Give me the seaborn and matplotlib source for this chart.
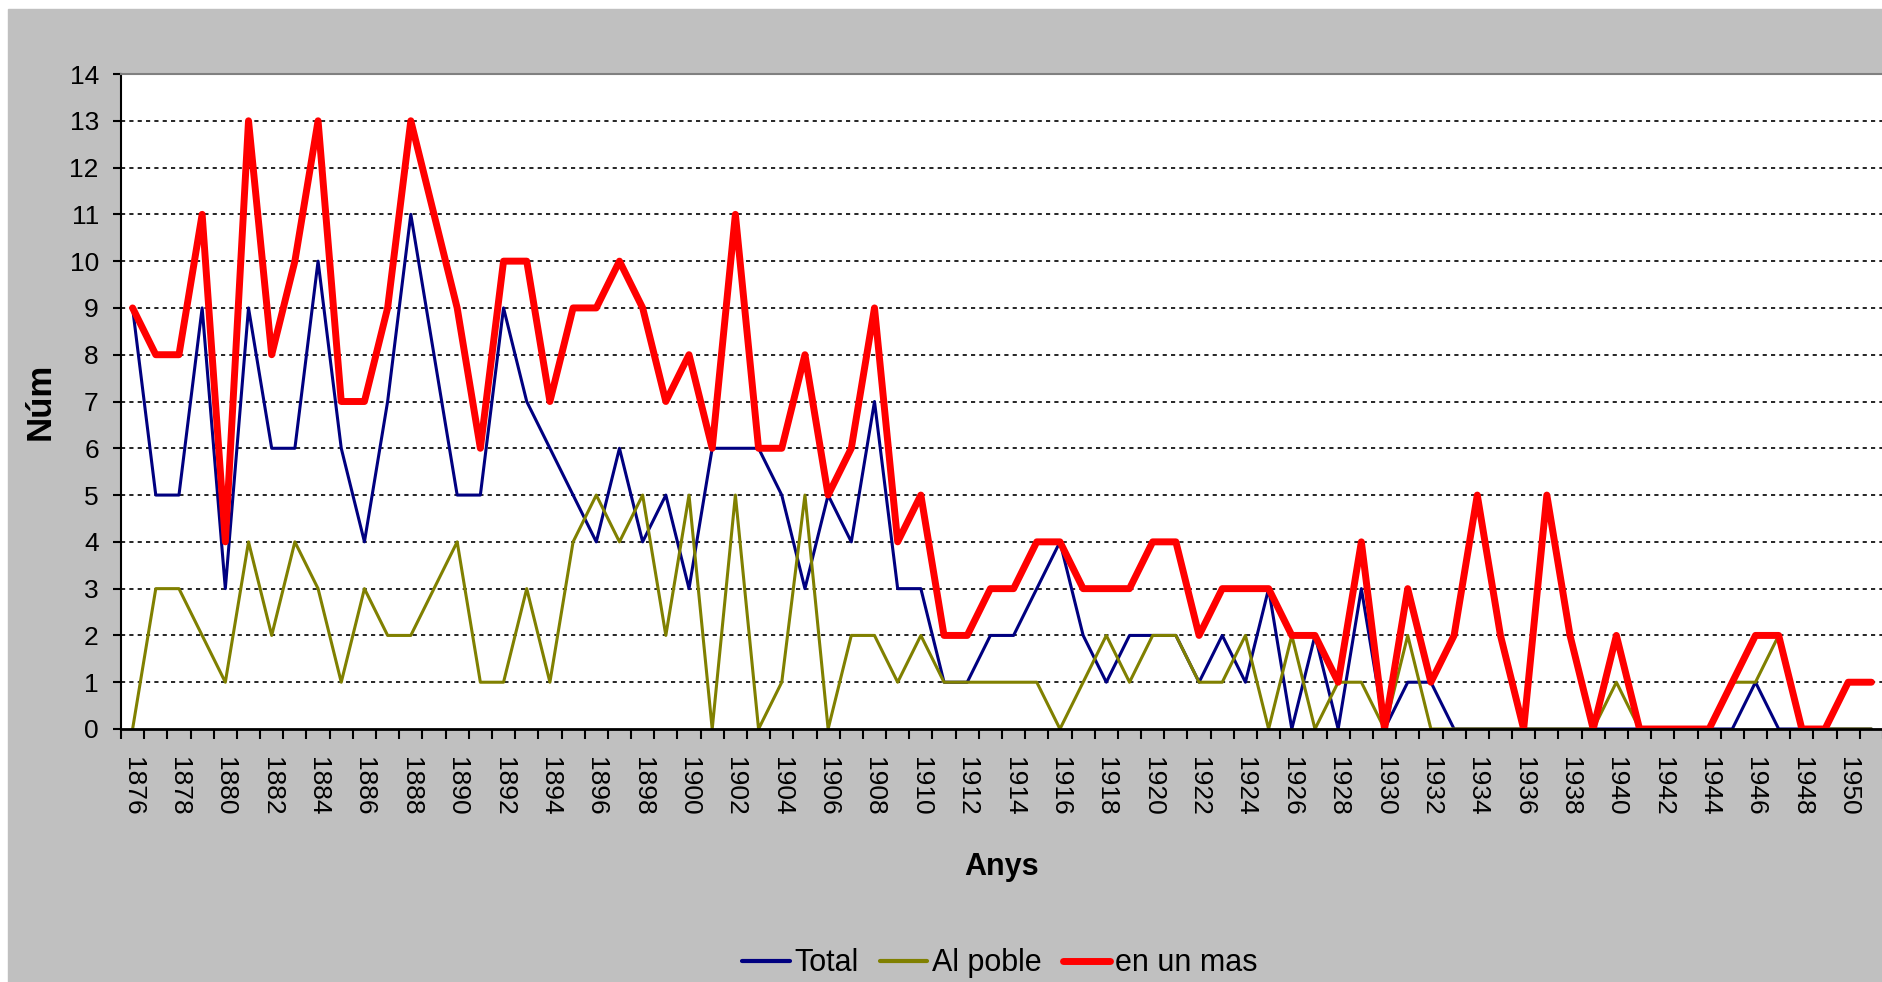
import numpy as np
import pandas as pd
import seaborn as sns
import matplotlib.pyplot as plt
from matplotlib.patches import Rectangle

# years on the category axis
years = list(range(1876, 1952))

total = [9, 5, 5, 9, 3, 9, 6, 6, 10, 6, 4, 7, 11, 8, 5, 5, 9, 7, 6, 5,
         4, 6, 4, 5, 3, 6, 6, 6, 5, 3, 5, 4, 7, 3, 3, 1, 1, 2, 2, 3,
         4, 2, 1, 2, 2, 2, 1, 2, 1, 3, 0, 2, 0, 3, 0, 1, 1, 0, 0, 0,
         0, 0, 0, 0, 0, 0, 0, 0, 0, 0, 1, 0, 0, 0, 0, 0]

al_poble = [0, 3, 3, 2, 1, 4, 2, 4, 3, 1, 3, 2, 2, 3, 4, 1, 1, 3, 1, 4,
            5, 4, 5, 2, 5, 0, 5, 0, 1, 5, 0, 2, 2, 1, 2, 1, 1, 1, 1, 1,
            0, 1, 2, 1, 2, 2, 1, 1, 2, 0, 2, 0, 1, 1, 0, 2, 0, 0, 0, 0,
            0, 0, 0, 0, 1, 0, 0, 0, 0, 1, 1, 2, 0, 0, 0, 0]

en_un_mas = [9, 8, 8, 11, 4, 13, 8, 10, 13, 7, 7, 9, 13, 11, 9, 6, 10, 10, 7, 9,
             9, 10, 9, 7, 8, 6, 11, 6, 6, 8, 5, 6, 9, 4, 5, 2, 2, 3, 3, 4,
             4, 3, 3, 3, 4, 4, 2, 3, 3, 3, 2, 2, 1, 4, 0, 3, 1, 2, 5, 2,
             0, 5, 2, 0, 2, 0, 0, 0, 0, 1, 2, 2, 0, 0, 1, 1]

series_names = ["Total", "Al poble", "en un mas"]
series_colors = ["#000080", "#808000", "#FF0000"]
series_widths = [2.2, 2.2, 5.0]

df = pd.DataFrame({"Any": years, "Total": total, "Al poble": al_poble,
                   "en un mas": en_un_mas})

sns.set_style("white")
plt.rcParams["font.family"] = ["Liberation Sans", "DejaVu Sans"]
plt.rcParams["text.color"] = "black"
plt.rcParams["axes.labelcolor"] = "black"
plt.rcParams["xtick.color"] = "black"
plt.rcParams["ytick.color"] = "black"

fig = plt.figure(figsize=(18.83, 9.82), dpi=100, facecolor="white")
# grey chart area (thin white border left and top)
fig.patches.append(Rectangle((8 / 1883, 0), 1, 1 - 9 / 982,
                             transform=fig.transFigure, color="#C0C0C0",
                             zorder=-1))

ax = fig.add_axes([121 / 1883, 1 - 729 / 982, 1 - 121 / 1883, 655 / 982])
ax.set_facecolor("white")

for name, col, lw in zip(series_names, series_colors, series_widths):
    sns.lineplot(data=df, x="Any", y=name, color=col, linewidth=lw,
                 label=name, ax=ax, legend=False)

ax.set_xlim(1875.5, 1951.5)
ax.set_ylim(0, 14)

# y axis
ax.set_yticks(range(15))
ax.set_yticklabels([str(v) for v in range(15)], fontsize=19)
ax.tick_params(axis="y", direction="out", length=6, width=1.5, pad=10,
               left=True)

# x axis: labels every two years, tick marks between categories
ax.set_xticks(years[::2])
ax.set_xticklabels([str(y) for y in years[::2]], rotation=-90, fontsize=19)
ax.tick_params(axis="x", which="major", length=0, pad=20)
ax.set_xticks(np.arange(1875.5, 1952, 1), minor=True)
ax.tick_params(axis="x", which="minor", direction="out", length=7,
               width=1.5, bottom=True)

# dashed horizontal gridlines
ax.yaxis.grid(True, color="black", linestyle=(0, (2.5, 2.5)), linewidth=1.2)
ax.xaxis.grid(False)
glines = ax.get_ygridlines()
glines[0].set_visible(False)
glines[-1].set_visible(False)

for side in ["left", "bottom"]:
    ax.spines[side].set_color("black")
ax.spines["left"].set_linewidth(1.5)
ax.spines["bottom"].set_linewidth(2.0)
ax.spines["top"].set_color("#808080")
ax.spines["top"].set_linewidth(1.5)
ax.spines["right"].set_visible(False)

ax.set_ylabel("Núm", fontsize=25, fontweight="bold")
ax.yaxis.label.set_va("center")
ax.yaxis.set_label_coords(-0.046, 0.5)
ax.set_xlabel("Anys", fontsize=22, fontweight="bold")
ax.xaxis.set_label_coords(0.5, -0.21)
ax.xaxis.label.set_va("center")

handles, labels = ax.get_legend_handles_labels()
leg = fig.legend(handles, labels, loc="center", bbox_to_anchor=(0.531, 0.019),
                 ncol=3, frameon=False, handlelength=1.55, handletextpad=0.15,
                 columnspacing=0.7, prop={"size": 22})
for h, lw in zip(leg.legend_handles, [3.0, 3.0, 5.0]):
    h.set_linewidth(lw)

fig.savefig("out.png", dpi=100, facecolor=fig.get_facecolor())
